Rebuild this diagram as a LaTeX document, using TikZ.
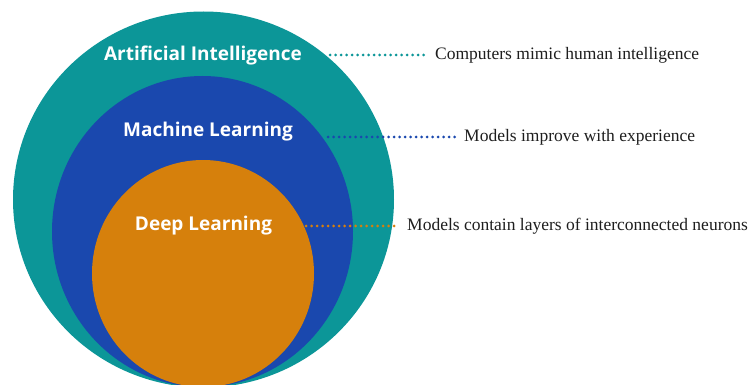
\documentclass[tikz,border=0pt]{standalone}
\usepackage{fontspec}
\setmainfont{Liberation Serif}
\setsansfont{Open Sans}
\usetikzlibrary{shapes.geometric}
\definecolor{aiteal}{RGB}{12,150,152}
\definecolor{mlblue}{RGB}{26,72,174}
\definecolor{dlorange}{RGB}{214,128,12}
\definecolor{desctext}{RGB}{30,30,30}
\tikzset{
  blob/.style={ellipse, draw=none, inner sep=0pt},
  circlabel/.style={font=\sffamily\bfseries\fontsize{19}{21}\selectfont, text=white, inner sep=0pt, anchor=base},
  desc/.style={font=\fontsize{17.5}{20}\selectfont, text=desctext, inner sep=0pt, anchor=west},
  leader/.style={line width=3pt, line cap=round, dash pattern=on 0pt off 5.5pt},
}
\begin{document}
\begin{tikzpicture}[x=1pt,y=-1pt]
\useasboundingbox (0,0) rectangle (748,385);
\begin{scope}
\clip (0,0) rectangle (748,385);
\node[blob, fill=aiteal, minimum width=381pt, minimum height=376pt] (ai) at (203.5,199.5) {};
\node[blob, fill=mlblue, minimum width=301pt, minimum height=311pt] (ml) at (202.5,231.5) {};
\node[blob, fill=dlorange, minimum width=222pt, minimum height=227pt] (dl) at (203,273.5) {};
\end{scope}
\node[circlabel] (ailabel) at (203,60.5) {Artificial Intelligence};
\node[circlabel] (mllabel) at (208,137) {Machine Learning};
\node[circlabel] (dllabel) at (203.5,230.5) {Deep Learning};
\node[desc] (aidesc) at (435,55) {Computers mimic human intelligence};
\node[desc] (mldesc) at (464,137) {Models improve with experience};
\node[desc] (dldesc) at (407,226) {Models contain layers of interconnected neurons};
\coordinate (aistart) at (330,55);
\coordinate (mlstart) at (328,137);
\coordinate (dlstart) at (306,226);
\coordinate (aiend) at ([xshift=-10pt]aidesc.west);
\coordinate (mlend) at ([xshift=-8pt]mldesc.west);
\coordinate (dlend) at ([xshift=-9pt]dldesc.west);
\draw[leader, draw=aiteal] (aistart) -- (aiend);
\draw[leader, draw=mlblue] (mlstart) -- (mlend);
\draw[leader, draw=dlorange] (dlstart) -- (dlend);
\end{tikzpicture}
\end{document}
